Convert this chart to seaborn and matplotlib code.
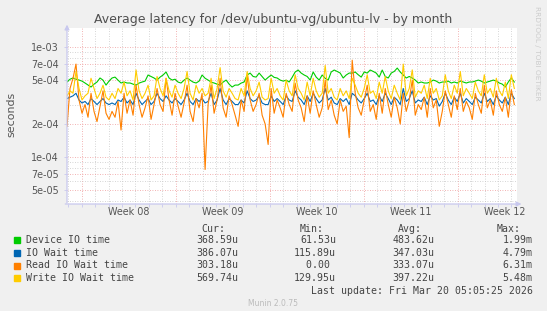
import numpy as np
import pandas as pd
import seaborn as sns
import matplotlib.pyplot as plt
from matplotlib.patches import Rectangle
from matplotlib.ticker import FixedLocator, FixedFormatter, NullFormatter

# --- data (microseconds) ---
series_names = ['Device IO time', 'IO Wait time', 'Read IO Wait time', 'Write IO Wait time']
series_colors = ['#00CC00', '#0066B3', '#FF8000', '#FFCC00']

device_us = [
    481, 510, 523, 510, 501, 490, 471, 451, 433, 460, 481, 523, 500, 451, 490,
    523, 533, 500, 471, 481, 471, 471, 460, 451, 470, 481, 490, 557, 540, 523,
    501, 533, 557, 593, 523, 501, 510, 480, 471, 500, 523, 500, 480, 471, 490,
    557, 520, 501, 480, 471, 460, 451, 480, 501, 460, 433, 451, 451, 470, 481,
    557, 580, 540, 533, 580, 540, 501, 530, 557, 530, 523, 501, 490, 500, 481,
    530, 593, 618, 580, 557, 540, 501, 593, 533, 501, 557, 520, 501, 593, 618,
    600, 580, 523, 557, 580, 580, 593, 560, 533, 593, 580, 618, 600, 580, 533,
    618, 540, 523, 580, 600, 644, 593, 557, 523, 540, 523, 501, 471, 481, 471,
    471, 481, 501, 490, 471, 481, 481, 490, 471, 481, 471, 490, 481, 471, 481,
    481, 490, 501, 490, 471, 481, 490, 501, 490, 471, 460, 433, 481, 523, 481,
]
iowait_us = [
    340, 350, 360, 380, 330, 310, 320, 300, 340, 320, 300, 320, 340, 310, 300,
    310, 300, 330, 320, 350, 310, 330, 300, 380, 330, 300, 320, 340, 300, 320,
    380, 340, 320, 360, 330, 310, 340, 320, 300, 330, 380, 320, 300, 340, 320,
    340, 310, 320, 380, 300, 330, 420, 330, 300, 340, 320, 300, 300, 330, 310,
    400, 340, 320, 330, 360, 310, 300, 300, 360, 320, 340, 320, 300, 360, 330,
    320, 400, 350, 330, 300, 360, 320, 380, 340, 310, 330, 420, 330, 350, 310,
    300, 340, 320, 340, 300, 380, 360, 330, 310, 340, 380, 320, 330, 300, 360,
    320, 380, 340, 300, 350, 330, 300, 420, 320, 340, 400, 310, 330, 320, 350,
    300, 360, 330, 340, 290, 320, 380, 330, 300, 350, 320, 380, 310, 340, 320,
    300, 350, 330, 310, 380, 320, 340, 300, 360, 330, 310, 350, 300, 380, 340,
]
read_us = [
    190, 420, 520, 700, 330, 250, 300, 230, 380, 260, 210, 290, 400, 250, 220,
    260, 230, 320, 176, 380, 250, 330, 240, 450, 300, 230, 280, 360, 220, 300,
    420, 300, 260, 520, 330, 240, 380, 290, 230, 310, 450, 260, 210, 340, 280,
    380, 77, 300, 450, 250, 330, 520, 280, 230, 360, 300, 240, 190, 330, 260,
    550, 330, 260, 300, 380, 240, 200, 130, 420, 250, 330, 280, 230, 380, 300,
    260, 470, 330, 280, 210, 360, 250, 400, 300, 230, 280, 500, 270, 330, 240,
    200, 330, 260, 290, 150, 760, 380, 280, 240, 330, 450, 260, 300, 220, 380,
    250, 420, 300, 230, 350, 280, 200, 380, 260, 330, 500, 240, 300, 270, 350,
    230, 420, 280, 330, 190, 260, 400, 300, 230, 360, 270, 420, 260, 320, 280,
    220, 380, 300, 250, 450, 280, 330, 240, 400, 300, 260, 350, 230, 410, 300,
]
write_us = [
    360, 400, 380, 600, 420, 330, 360, 380, 520, 420, 340, 380, 450, 350, 330,
    380, 340, 420, 380, 480, 360, 400, 330, 620, 400, 340, 380, 450, 330, 360,
    540, 420, 360, 520, 400, 350, 450, 380, 340, 420, 600, 380, 330, 450, 380,
    420, 360, 380, 520, 340, 420, 650, 400, 350, 420, 380, 340, 330, 420, 360,
    600, 420, 360, 400, 480, 350, 330, 340, 520, 380, 420, 360, 330, 500, 400,
    360, 560, 420, 380, 330, 480, 360, 520, 400, 350, 380, 680, 380, 420, 350,
    330, 420, 360, 400, 340, 520, 450, 380, 350, 420, 560, 380, 400, 340, 480,
    380, 540, 400, 340, 450, 380, 330, 700, 360, 420, 620, 350, 400, 380, 450,
    340, 520, 380, 420, 330, 360, 560, 400, 340, 450, 380, 600, 360, 420, 380,
    340, 480, 400, 360, 560, 380, 420, 350, 520, 400, 360, 480, 340, 560, 420,
]

cur_vals = ['368.59u', '386.07u', '303.18u', '569.74u']
min_vals = ['61.53u', '115.89u', '0.00 ', '129.95u']
avg_vals = ['483.62u', '347.03u', '333.07u', '397.22u']
max_vals = ['1.99m', '4.79m', '6.31m', '5.48m']

week_labels = ['Week 08', 'Week 09', 'Week 10', 'Week 11', 'Week 12']
week_starts = [1.09, 8.09, 15.09, 22.09, 29.09]   # days from left edge
y_major = [5e-5, 7e-5, 1e-4, 2e-4, 5e-4, 7e-4, 1e-3]
y_labels = ['5e-05', '7e-05', '1e-04', '2e-04', '5e-04', '7e-04', '1e-03']
y_minor = [4e-5, 6e-5, 8e-5, 9e-5, 3e-4, 4e-4, 6e-4, 8e-4, 9e-4]

n = len(device_us)
t = np.linspace(0, 33.3, n)
df = pd.DataFrame({
    'day': np.tile(t, 4),
    'value': np.concatenate([device_us, iowait_us, read_us, write_us]) * 1e-6,
    'series': np.repeat(series_names, n),
})

# --- figure ---
W, H = 547, 311
fig = plt.figure(figsize=(W / 100, H / 100), dpi=100, facecolor='#F0F0F0')
ax = fig.add_axes([67 / W, 107 / H, 450 / W, 176 / H], facecolor='white')

def fx(px):
    return px / W

def fy(py):
    return 1 - py / H

sns.lineplot(data=df, x='day', y='value', hue='series', hue_order=series_names,
             palette=dict(zip(series_names, series_colors)), estimator=None,
             linewidth=0.8, legend=False, ax=ax)

ax.set_yscale('log')
ax.set_ylim(3.74e-5, 1.49e-3)
ax.set_xlim(0, 33.5)
ax.set_xlabel('')
ax.set_ylabel('')

ax.yaxis.set_major_locator(FixedLocator(y_major))
ax.yaxis.set_major_formatter(FixedFormatter(y_labels))
ax.yaxis.set_minor_locator(FixedLocator(y_minor))
ax.yaxis.set_minor_formatter(NullFormatter())
ax.xaxis.set_major_locator(FixedLocator(week_starts))
ax.xaxis.set_major_formatter(NullFormatter())
ax.xaxis.set_minor_locator(FixedLocator([week_starts[0] - 1 + k for k in range(34)]))

ax.grid(which='major', color='#EE9999', linestyle=(0, (1, 2)), linewidth=0.6)
ax.grid(which='minor', color='#C8C8C8', linestyle=(0, (1, 2)), linewidth=0.6)
ax.set_axisbelow(True)
ax.tick_params(axis='y', which='major', labelsize=6.9, labelcolor='#555555',
               length=2, width=0.6, color='#C8C8EE', pad=4)
ax.tick_params(axis='y', which='minor', length=0)
ax.tick_params(axis='x', which='both', length=2, width=0.6, color='#C8C8EE')
for s in ax.spines.values():
    s.set_visible(False)

# axis arrows
arrow = dict(arrowstyle='-|>', color='#C8C8EE', lw=0.9, mutation_scale=7)
ax.annotate('', xy=(0, 1.035), xytext=(0, -0.01), xycoords='axes fraction', arrowprops=arrow)
ax.annotate('', xy=(1.016, 0), xytext=(-0.01, 0), xycoords='axes fraction', arrowprops=arrow)

# week labels centred in each week
for ws, lab in zip(week_starts, week_labels):
    ax.text(ws + 3.5, -0.045, lab, transform=ax.get_xaxis_transform(),
            ha='center', va='center', fontsize=6.9, color='#555555')

fig.text(0.5, fy(20), 'Average latency for /dev/ubuntu-vg/ubuntu-lv - by month',
         ha='center', va='center', fontsize=9, color='#505050')
fig.text(fx(11), fy(114), 'seconds', rotation=90, ha='center', va='center',
         fontsize=7.9, color='#555555')
fig.text(fx(537), fy(53), 'RRDTOOL / TOBI OETIKER', rotation=270, ha='center',
         va='center', fontsize=5.3, color='#CCCCCC')

# legend block
mono = dict(family='DejaVu Sans Mono', fontsize=7.1, color='#444444', va='center')
for hx, h in zip([225.7, 323.7, 422, 520.5], ['Cur:', 'Min:', 'Avg:', 'Max:']):
    fig.text(fx(hx), fy(228.5), h, ha='right', **mono)
row_y = [240.3, 252.9, 265.5, 278]
for i, name in enumerate(series_names):
    y = row_y[i]
    fig.patches.append(Rectangle((fx(14), fy(y + 3)), 6 / W, 6 / H,
                                 transform=fig.transFigure, color=series_colors[i]))
    fig.text(fx(26), fy(y), name, ha='left', **mono)
    fig.text(fx(238.3), fy(y), cur_vals[i], ha='right', **mono)
    fig.text(fx(336), fy(y), min_vals[i], ha='right', **mono)
    fig.text(fx(434.3), fy(y), avg_vals[i], ha='right', **mono)
    fig.text(fx(532.7), fy(y), max_vals[i], ha='right', **mono)
fig.text(fx(532.7), fy(290.6), 'Last update: Fri Mar 20 05:05:25 2026', ha='right', **mono)
fig.text(fx(272.8), fy(303.8), 'Munin 2.0.75', ha='center', va='center',
         fontsize=5.5, color='#BBBBBB')

fig.savefig('out.png', dpi=100, facecolor=fig.get_facecolor())
